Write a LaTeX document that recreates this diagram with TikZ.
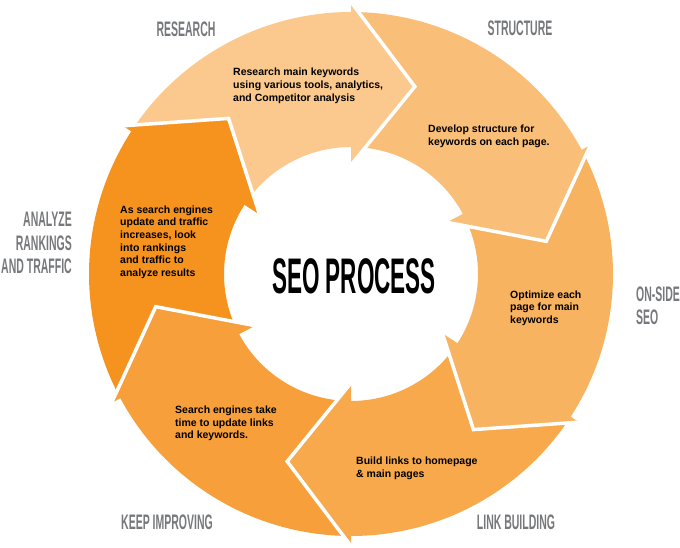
\documentclass[tikz,border=0pt]{standalone}
\usepackage{fontspec}
\setmainfont{Liberation Sans}
\newfontfamily\labelfont[FakeStretch=0.5]{Liberation Sans}
\newfontfamily\titlefont[FakeStretch=0.45]{Liberation Sans}
\definecolor{cA}{HTML}{FBC98E}
\definecolor{cB}{HTML}{F9BE78}
\definecolor{cC}{HTML}{F8B360}
\definecolor{cD}{HTML}{F7A94C}
\definecolor{cE}{HTML}{F7A03B}
\definecolor{cF}{HTML}{F6921E}
\definecolor{labelgray}{HTML}{77787B}
\begin{document}
\begin{tikzpicture}[x=1pt,y=1pt,
  bodytext/.style={font=\bfseries\fontsize{10.5}{12.6}\selectfont, align=left, anchor=west, inner sep=0pt, text=black},
  steplabel/.style={font=\labelfont\bfseries\fontsize{21}{23.5}\selectfont, text=labelgray, inner sep=0pt},
  gapline/.style={white, line width=3.5pt, line join=miter, line cap=butt}]
\useasboundingbox (-351,-274) rectangle (329,274);
\def\R{262}\def\r{127}\def\Rb{272}\def\rb{109}\def\Rt{198}\def\dt{18.8}
% ring bodies
\foreach \s/\e/\c in {147/90/cA, 90/28.3/cB, 28.3/-33/cC, -33/-90/cD, -90/-151.7/cE, 208.3/147/cF} {
  \fill[\c] (\s:\R) arc[start angle=\s, end angle=\e, radius=\R] -- (\e:\r) arc[start angle=\e, end angle=\s, radius=\r] -- cycle;
}
% arrow heads
\foreach \e/\c in {90/cA, 28.3/cB, -33/cC, -90/cD, -151.7/cE, 147/cF} {
  \fill[\c] ({\e+1}:{\R-0.5}) -- (\e:{\R-0.5}) -- (\e:\Rb) -- ({\e-\dt}:\Rt) -- (\e:\rb) -- (\e:{\r+0.5}) -- ({\e+1}:{\r+0.5}) -- cycle;
  \draw[gapline] (\e:\Rb) -- ({\e-\dt}:\Rt) -- (\e:\rb);
}
% centre title
\node[font=\titlefont\bfseries\fontsize{50}{50}\selectfont, inner sep=0pt, text=black] (title) at (3,-2) {SEO PROCESS};
% texts in the segments
\node[bodytext] (t1) at (-118,188.2) {Research main keywords\\using various tools, analytics,\\and Competitor analysis};
\node[bodytext] (t2) at (77,137.5) {Develop structure for\\keywords on each page.};
\node[bodytext] (t3) at (159,-34) {Optimize each\\page for main\\keywords};
\node[bodytext] (t4) at (5,-194.5) {Build links to homepage\\\& main pages};
\node[bodytext] (t5) at (-176,-149.5) {Search engines take\\time to update links\\and keywords.};
\node[bodytext] (t6) at (-231,32) {As search engines\\update and traffic\\increases, look\\into rankings\\and traffic to\\analyze results};
% step labels
\node[steplabel] (l1) at (-165,245) {RESEARCH};
\node[steplabel] (l2) at (169,245.5) {STRUCTURE};
\node[steplabel, anchor=west, align=left] (l3) at (285,-32) {ON-SIDE\\SEO};
\node[steplabel] (l4) at (165,-248) {LINK BUILDING};
\node[steplabel] (l5) at (-184,-248) {KEEP IMPROVING};
\node[steplabel, anchor=east, align=right] (l6) at (-279,31) {ANALYZE\\RANKINGS\\AND TRAFFIC};
\end{tikzpicture}
\end{document}
